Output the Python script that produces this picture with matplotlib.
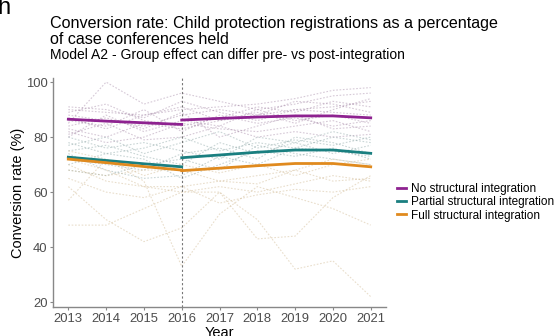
import matplotlib
matplotlib.use("Agg")
import matplotlib.pyplot as plt

plt.rcParams["font.family"] = ["Liberation Sans", "DejaVu Sans"]

years = [2013, 2014, 2015, 2016, 2017, 2018, 2019, 2020, 2021]
pre_years = years[:4]
post_years = years[3:]

groups = ["No structural integration", "Partial structural integration", "Full structural integration"]
group_colors = ["#8E2290", "#1A7F80", "#E08A1E"]
faint_colors = ["#9a7a9c", "#7d9a9a", "#c9ae80"]

# model fit per group, pre- and post-integration
fit_pre = {
    "No structural integration": [86.5, 85.8, 85.2, 84.6],
    "Partial structural integration": [72.7, 71.5, 70.3, 69.2],
    "Full structural integration": [72.0, 70.7, 69.3, 68.0],
}
fit_post = {
    "No structural integration": [86.2, 86.8, 87.3, 87.7, 87.7, 87.0],
    "Partial structural integration": [72.5, 73.5, 74.5, 75.3, 75.3, 74.1],
    "Full structural integration": [67.8, 68.7, 69.6, 70.4, 70.4, 69.2],
}

# individual area trajectories (observed), 2013-2021
areas_none = [
    [90, 89, 88, 90, 91, 92, 94, 97, 98],
    [85, 100, 92, 96, 93, 90, 92, 95, 96],
    [88, 86, 84, 88, 90, 88, 93, 92, 89],
    [83, 80, 85, 83, 86, 88, 90, 91, 93],
    [80, 88, 82, 86, 84, 90, 86, 88, 85],
    [91, 90, 87, 93, 89, 86, 90, 89, 88],
    [86, 84, 90, 82, 88, 85, 87, 84, 86],
    [82, 78, 80, 85, 83, 82, 84, 86, 82],
    [89, 92, 86, 84, 87, 91, 89, 93, 91],
    [84, 87, 83, 89, 80, 84, 88, 83, 84],
    [87, 83, 88, 91, 86, 89, 85, 90, 94],
    [81, 85, 79, 80, 84, 80, 82, 80, 81],
]
areas_partial = [
    [78, 74, 76, 80, 75, 78, 76, 80, 78],
    [72, 70, 68, 74, 76, 72, 80, 78, 74],
    [70, 74, 72, 65, 70, 75, 73, 76, 72],
    [75, 77, 73, 70, 78, 74, 78, 74, 77],
    [68, 66, 70, 72, 68, 77, 74, 72, 70],
    [80, 76, 78, 75, 72, 80, 78, 82, 79],
    [74, 68, 65, 66, 73, 70, 76, 75, 73],
    [77, 80, 74, 78, 82, 76, 79, 77, 80],
]
areas_full = [
    [72, 68, 62, 62, 64, 66, 68, 72, 70],
    [70, 64, 62, 60, 60, 50, 32, 35, 22],
    [48, 48, 54, 60, 62, 60, 63, 66, 64],
    [62, 50, 42, 47, 60, 43, 44, 58, 66],
    [57, 72, 64, 33, 52, 62, 58, 54, 48],
    [68, 66, 68, 68, 64, 63, 68, 64, 65],
    [75, 72, 66, 70, 67, 70, 66, 70, 72],
    [65, 60, 58, 62, 56, 59, 61, 60, 62],
]
areas = [areas_none, areas_partial, areas_full]

fig = plt.figure(figsize=(5.6, 3.36), dpi=100)
ax = fig.add_axes([0.095, 0.086, 0.594, 0.682])

for series_list, color in zip(areas, faint_colors):
    for vals in series_list:
        ax.plot(years, vals, color=color, alpha=0.4, linewidth=0.8,
                linestyle=(0, (1.5, 1.5)), zorder=1)

ax.axvline(2016, color="#777777", linewidth=0.8, linestyle=(0, (2, 2)), zorder=2)

for name, color in zip(groups, group_colors):
    ax.plot(pre_years, fit_pre[name], color=color, linewidth=2.0, zorder=3)
    ax.plot(post_years, fit_post[name], color=color, linewidth=2.0, zorder=3, label=name)

ax.set_xlim(2012.6, 2021.4)
ax.set_ylim(18.2, 101.5)
ax.set_xticks(years)
ax.set_yticks([20, 40, 60, 80, 100])
for side in ["top", "right"]:
    ax.spines[side].set_visible(False)
for side in ["left", "bottom"]:
    ax.spines[side].set_color("#888888")
    ax.spines[side].set_linewidth(1.0)
ax.tick_params(colors="#888888", labelcolor="#4d4d4d", labelsize=9.4, length=2.5, width=0.8, pad=1.5)
ax.set_xlabel("Year", fontsize=10.5, labelpad=1)
ax.set_ylabel("Conversion rate (%)", fontsize=10.5, labelpad=1)

ax.legend(loc="center left", bbox_to_anchor=(1.035, 0.457), frameon=False,
          fontsize=8.5, handlelength=0.68, handletextpad=0.5, labelspacing=0.1,
          borderpad=0, borderaxespad=0)

fig.text(-0.004, 0.958, "h", fontsize=17, va="baseline", ha="left")
fig.text(0.089, 0.9167, "Conversion rate: Child protection registrations as a percentage",
         fontsize=11.6, va="baseline", ha="left")
fig.text(0.089, 0.869, "of case conferences held",
         fontsize=11.6, va="baseline", ha="left")
fig.text(0.089, 0.8244, "Model A2 - Group effect can differ pre- vs post-integration",
         fontsize=10.0, va="baseline", ha="left")

fig.savefig("out.png", dpi=100)
